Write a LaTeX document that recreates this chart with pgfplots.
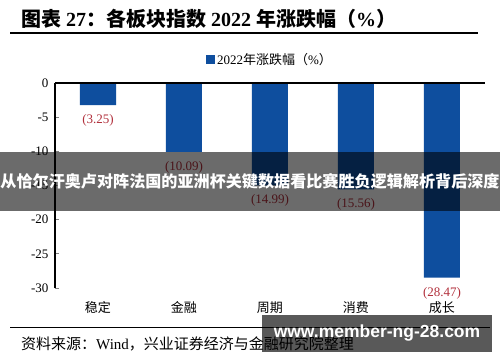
\documentclass[border=0pt]{standalone}
\usepackage{pgfplots}
\pgfplotsset{compat=1.18}
\usepackage{fontspec}
\setmainfont{Liberation Serif}
\newfontfamily\cjk{Noto Sans CJK SC}
\newfontfamily\sansb{Liberation Sans Bold}
\definecolor{barblue}{RGB}{14,78,158}
\definecolor{lblred}{RGB}{178,48,60}
\begin{document}
\begin{tikzpicture}[x=1pt,y=1pt]
\useasboundingbox (0,0) rectangle (500,362);
\fill[white] (0,0) rectangle (500,362);
% title
\node[anchor=base west,inner sep=0pt] at (21,335) {\fontsize{20}{22}\selectfont\bfseries{\cjk\bfseries 图表} 27{\cjk\bfseries ：各板块指数} 2022 {\cjk\bfseries 年涨跌幅（}\%{\cjk\bfseries ）}};
\draw[line width=1.2pt] (10,329) -- (478,329);
\begin{axis}[
  at={(55pt,74pt)}, anchor=south west,
  scale only axis, width=430pt, height=205pt,
  xmin=-0.5, xmax=4.5, ymin=-30, ymax=0,
  axis y line*=left, axis x line*=bottom,
  x axis line style={draw=none},
  y axis line style={line width=1.1pt},
  xtick={0,1,2,3,4},
  xticklabels={{\cjk 稳定},{\cjk 金融},{\cjk 周期},{\cjk 消费},{\cjk 成长}},
  x tick label style={font=\fontsize{13}{15}\selectfont, yshift=-6pt},
  xtick style={draw=none},
  ytick={-30,-25,-20,-15,-10,-5,0},
  tick align=inside,
  major tick length=4pt,
  ytick style={line width=1pt},
  /pgf/number format/assume math mode=true,
  y tick label style={font=\fontsize{13}{15}\selectfont, xshift=-3pt},
  ybar, bar width=36pt,
  nodes near coords,
  point meta=explicit symbolic,
  every node near coord/.append style={anchor=north, yshift=-6pt, text=lblred, font=\fontsize{13}{15}\selectfont},
  legend style={at={(0.5,1)}, anchor=south, yshift=14pt, draw=none, font=\fontsize{13}{15}\selectfont, inner sep=1pt},
  legend image code/.code={\fill[barblue] (0pt,-4.5pt) rectangle (9pt,4.5pt);},
  clip=false,
]
\addplot[fill=barblue, draw=none] coordinates {
  (0,-3.25) [(3.25)]
  (1,-10.09) [(10.09)]
  (2,-14.99) [(14.99)]
  (3,-15.56) [(15.56)]
  (4,-28.47) [(28.47)]
};
\addlegendentry{2022{\cjk 年涨跌幅（}\%{\cjk ）}}
\draw[line width=1.2pt] (axis cs:-0.5,0) -- (axis cs:4.5,0);
\end{axis}
% source
\draw[line width=0.8pt] (10,35) -- (490,35);
\node[anchor=base west,inner sep=0pt] at (21,13) {\fontsize{15}{17}\selectfont{\cjk 资料来源：}Wind{\cjk ，兴业证券经济与金融研究院整理}};
% overlays
\fill[black,opacity=0.58] (0,151) rectangle (500,210);
\node[text=white] at (250,181) {\fontsize{16.1}{18}\selectfont\cjk\bfseries 从恰尔汗奥卢对阵法国的亚洲杯关键数据看比赛胜负逻辑解析背后深度};
\fill[black,opacity=0.65] (262,10) rectangle (492,47);
\node[text=white] at (377,28.5) {\fontsize{17.5}{19}\selectfont\sansb www.member-ng-28.com};
\end{tikzpicture}
\end{document}
